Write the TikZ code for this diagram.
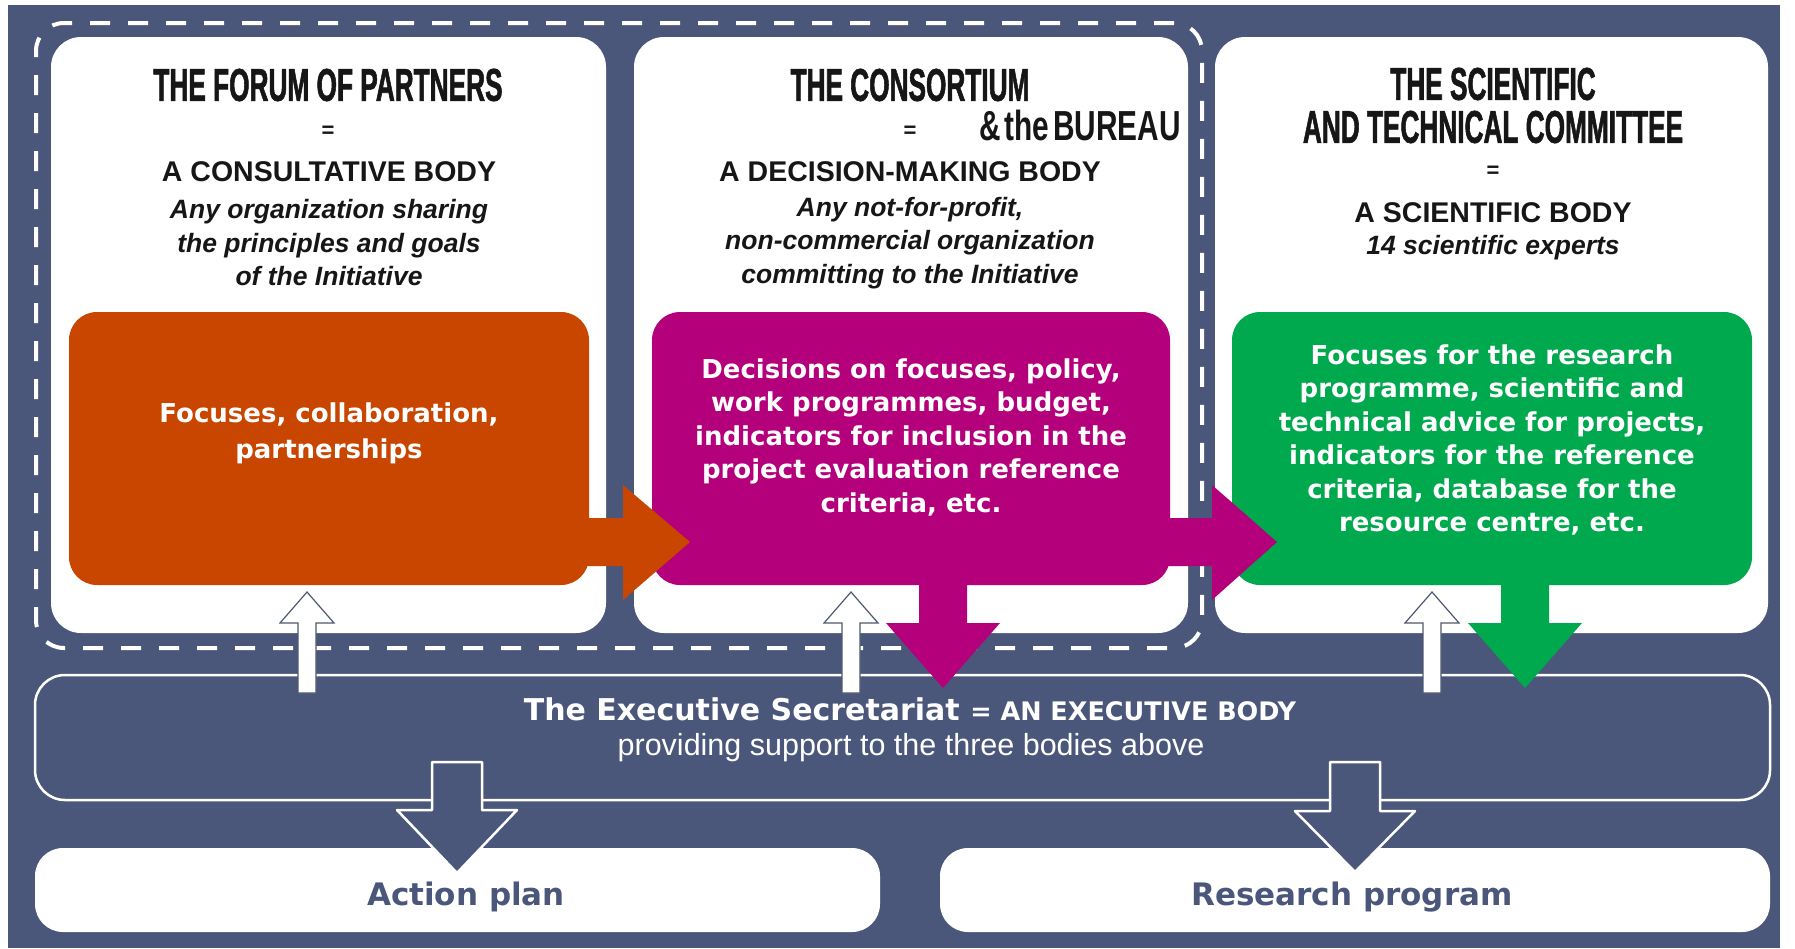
\documentclass[tikz,border=0pt]{standalone}
\usepackage{fontspec}
\setmainfont{Liberation Sans}
\newfontfamily\titlefont[FakeStretch=0.57,FakeBold=1.2]{Liberation Sans}
\newfontfamily\burfont[FakeStretch=0.71]{Liberation Sans}
\newfontfamily\dvfont{DejaVu Sans}
\definecolor{bg}{RGB}{74,87,122}
\definecolor{orng}{RGB}{200,70,0}
\definecolor{mgnt}{RGB}{180,0,122}
\definecolor{grn}{RGB}{0,168,78}
\definecolor{ink}{RGB}{22,22,22}
\definecolor{arrline}{RGB}{80,88,112}
\begin{document}
\begin{tikzpicture}[x=1pt,y=-1pt,
  panel/.style={fill=white, rounded corners=30pt, inner sep=0pt, outer sep=0pt},
  cbox/.style={rounded corners=28pt, inner sep=0pt, outer sep=0pt, minimum width=520pt, minimum height=273pt},
  dashbox/.style={draw=white, line width=4pt, dash pattern=on 20pt off 18pt, rounded corners=28pt, inner sep=0pt, outer sep=0pt},
  execbox/.style={draw=white, line width=2.5pt, rounded corners=30pt, inner sep=0pt, outer sep=0pt},
  outbox/.style={fill=white, rounded corners=28pt, inner sep=0pt, outer sep=0pt},
  ttl/.style={font={\titlefont\bfseries\fontsize{46}{41}\selectfont}, text=ink, align=center, inner sep=0pt},
  bur/.style={font={\burfont\bfseries\fontsize{42}{42}\selectfont}, text=ink, inner sep=0pt},
  eqs/.style={font={\bfseries\fontsize{22}{22}\selectfont}, text=ink, inner sep=0pt},
  hd/.style={font={\bfseries\fontsize{28.5}{32}\selectfont}, text=ink, inner sep=0pt},
  itl/.style={font={\bfseries\itshape\fontsize{26.5}{33.5}\selectfont}, text=ink, align=center, inner sep=0pt},
  btx/.style={font={\dvfont\bfseries\fontsize{26}{33.5}\selectfont}, text=white, align=center, inner sep=0pt},
  uparr/.style={fill=white, draw=arrline, line width=1.2pt, line join=miter},
  bluearr/.style={fill=bg, draw=white, line width=2.5pt, line join=round},
  outtx/.style={font={\dvfont\bfseries\fontsize{31}{36}\selectfont}, text=bg, inner sep=0pt, anchor=base}
]
\useasboundingbox (0,0) rectangle (1795,948);
\fill[bg] (8,5) rectangle (1780,948);

% dashed frame around forum + consortium
\node[dashbox, minimum width=1166pt, minimum height=625pt] (frame) at (619,335.5) {};

% white panels
\node[panel, minimum width=555pt, minimum height=596pt] (p1) at (328.5,335) {};
\node[panel, minimum width=554pt, minimum height=596pt] (p2) at (911,335) {};
\node[panel, minimum width=553pt, minimum height=596pt] (p3) at (1491.5,335) {};

% panel texts
\node[ttl] (t1) at (328,85) {THE FORUM OF PARTNERS};
\node[eqs] (e1) at (328,132) {=};
\node[hd] (h1) at (329,172) {A CONSULTATIVE BODY};
\node[itl] (i1) at (329,243) {Any organization sharing\\the principles and goals\\of the Initiative};

\node[ttl] (t2) at (910,85) {THE CONSORTIUM};
\node[bur] (b2) at (1080,125) {\&\hspace{4pt}the\hspace{4pt}BUREAU};
\node[eqs] (e2) at (910,132) {=};
\node[hd] (h2) at (910,172) {A DECISION-MAKING BODY};
\node[itl] (i2) at (910,243) {Any not-for-profit,\\non-commercial organization\\committing to the Initiative};

\node[ttl] (t3a) at (1493,84) {THE SCIENTIFIC};
\node[ttl] (t3b) at (1493,127) {AND TECHNICAL COMMITTEE};
\node[eqs] (e3) at (1493,172) {=};
\node[hd] (h3) at (1493,213) {A SCIENTIFIC BODY};
\node[itl] (i3) at (1493,248) {14 scientific experts};

% coloured boxes
\node[cbox, fill=orng] (ob) at (329,448.5) {};
\node[cbox, fill=mgnt, minimum width=518pt] (mb) at (911,448.5) {};
\node[cbox, fill=grn] (gb) at (1492,448.5) {};

\node[btx, font={\dvfont\bfseries\fontsize{26}{36}\selectfont}] (ot) at (329,433) {Focuses, collaboration,\\partnerships};
\node[btx] (mt) at (911,437) {Decisions on focuses, policy,\\work programmes, budget,\\indicators for inclusion in the\\project evaluation reference\\criteria, etc.};
\node[btx] (gt) at (1492,440) {Focuses for the research\\programme, scientific and\\technical advice for projects,\\indicators for the reference\\criteria, database for the\\resource centre, etc.};

% horizontal block arrows
\fill[orng] (585,518) -- (623,518) -- (623,485) -- (690,542) -- (623,600) -- (623,566) -- (585,566) -- cycle;
\fill[mgnt] (1166,518) -- (1212,518) -- (1212,485) -- (1277,542) -- (1212,600) -- (1212,566) -- (1166,566) -- cycle;

% executive box and outputs
\node[execbox, minimum width=1735pt, minimum height=125pt] (ex) at (902.5,737.5) {};
\node[outbox, minimum width=845pt, minimum height=84pt] (ap) at (457.5,890) {};
\node[outbox, minimum width=830pt, minimum height=84pt] (rp) at (1355,890) {};

% vertical coloured block arrows
\fill[mgnt] (919,580) -- (967,580) -- (967,623) -- (1000,623) -- (943,688) -- (886,623) -- (919,623) -- cycle;
\fill[grn] (1501,580) -- (1549,580) -- (1549,623) -- (1582,623) -- (1525,688) -- (1468,623) -- (1501,623) -- cycle;

% white up arrows from the executive secretariat
\foreach \c in {307,851,1432}{
  \draw[uparr] (\c-9,693) -- (\c-9,623) -- (\c-27,623) -- (\c,592) -- (\c+27,623) -- (\c+9,623) -- (\c+9,693) -- cycle;
}

% blue down arrows to outputs
\draw[bluearr] (432,762) -- (482,762) -- (482,810) -- (517,810) -- (457,873) -- (397,810) -- (432,810) -- cycle;
\draw[bluearr] (1330,762) -- (1380,762) -- (1380,811) -- (1415,811) -- (1355,872) -- (1295,811) -- (1330,811) -- cycle;

% executive texts
\node[anchor=base, text=white, inner sep=0pt] (ex1) at (910,720) {{\dvfont\bfseries\fontsize{30}{34}\selectfont The Executive Secretariat\ }{\dvfont\bfseries\fontsize{25.5}{28}\selectfont = AN EXECUTIVE BODY}};
\node[anchor=base, text=white, inner sep=0pt, font={\fontsize{30.5}{34}\selectfont}] (ex2) at (911,755) {providing support to the three bodies above};

\node[outtx] (apt) at (466,905) {Action plan};
\node[outtx] (rpt) at (1352,905) {Research program};
\end{tikzpicture}
\end{document}
